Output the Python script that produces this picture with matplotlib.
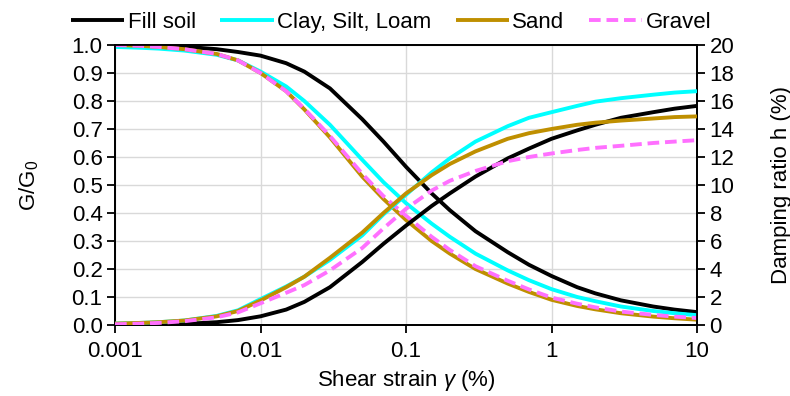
import matplotlib
matplotlib.use("Agg")
import matplotlib.pyplot as plt
from matplotlib.ticker import FixedLocator, FixedFormatter, NullLocator

plt.rcParams['font.family'] = ['Liberation Sans', 'DejaVu Sans']
plt.rcParams['mathtext.fontset'] = 'custom'
plt.rcParams['mathtext.rm'] = 'Liberation Sans'
plt.rcParams['mathtext.it'] = 'Liberation Sans:italic'
plt.rcParams['mathtext.default'] = 'regular'

# shear strain (%) at which the curves are given
strain = [0.001, 0.0015, 0.002, 0.003, 0.005, 0.007,
          0.01, 0.015, 0.02, 0.03, 0.05, 0.07,
          0.1, 0.15, 0.2, 0.3, 0.5, 0.7,
          1, 1.5, 2, 3, 5, 7, 10]

# shear modulus reduction G/G0
g_fill = [1.0, 0.999, 0.998, 0.994, 0.985, 0.975,
          0.962, 0.935, 0.905, 0.845, 0.735, 0.655,
          0.565, 0.47, 0.41, 0.335, 0.26, 0.215,
          0.175, 0.135, 0.113, 0.088, 0.066, 0.055, 0.046]
g_clay = [0.993, 0.99, 0.987, 0.98, 0.965, 0.945,
          0.905, 0.852, 0.8, 0.715, 0.59, 0.51,
          0.435, 0.362, 0.315, 0.255, 0.195, 0.16,
          0.128, 0.1, 0.085, 0.066, 0.05, 0.042, 0.035]
g_sand = [1.0, 0.997, 0.993, 0.985, 0.968, 0.945,
          0.9, 0.835, 0.77, 0.67, 0.53, 0.45,
          0.375, 0.3, 0.255, 0.2, 0.148, 0.118,
          0.09, 0.068, 0.056, 0.042, 0.03, 0.024, 0.019]
g_gravel = [1.0, 0.997, 0.993, 0.985, 0.968, 0.945,
            0.9, 0.835, 0.772, 0.675, 0.54, 0.46,
            0.39, 0.315, 0.268, 0.21, 0.158, 0.127,
            0.098, 0.076, 0.063, 0.048, 0.036, 0.03, 0.025]

# damping ratio h (%)
h_fill = [0.0, 0.02, 0.04, 0.08, 0.2, 0.35,
          0.62, 1.1, 1.65, 2.7, 4.5, 5.8,
          7.1, 8.5, 9.4, 10.6, 11.9, 12.6,
          13.3, 13.9, 14.3, 14.8, 15.2, 15.45, 15.65]
h_clay = [0.1, 0.15, 0.2, 0.32, 0.65, 1.05,
          1.85, 2.75, 3.45, 4.65, 6.4, 7.9,
          9.3, 10.9, 11.9, 13.1, 14.2, 14.8,
          15.2, 15.65, 15.95, 16.2, 16.45, 16.6, 16.7]
h_sand = [0.1, 0.15, 0.2, 0.32, 0.62, 1.0,
          1.75, 2.7, 3.45, 4.8, 6.6, 8.0,
          9.4, 10.7, 11.5, 12.4, 13.3, 13.7,
          14.0, 14.3, 14.45, 14.6, 14.75, 14.85, 14.9]
h_gravel = [0.05, 0.1, 0.15, 0.27, 0.55, 0.9,
            1.55, 2.3, 2.85, 3.9, 5.5, 6.9,
            8.3, 9.6, 10.3, 11.0, 11.7, 12.0,
            12.25, 12.5, 12.65, 12.8, 13.0, 13.1, 13.2]

names = ['Fill soil', 'Clay, Silt, Loam', 'Sand', 'Gravel']
colors = ['black', '#00FFFF', '#BF8F00', '#FF70FF']
styles = ['-', '-', '-', (0, (3.0, 1.5))]

x_ticks = [0.001, 0.01, 0.1, 1, 10]
x_labels = ['0.001', '0.01', '0.1', '1', '10']
g_ticks = [i / 10 for i in range(11)]
h_ticks = list(range(0, 21, 2))

fs = 16
lw = 2.8
fig = plt.figure(figsize=(7.9, 3.96), dpi=100)
ax = fig.add_axes([0.1456, 0.1793, 0.7367, 0.7071])
ax2 = ax.twinx()

g_sets = [g_fill, g_clay, g_sand, g_gravel]
h_sets = [h_fill, h_clay, h_sand, h_gravel]
order = [1, 2, 3, 0]  # drawing order; legend keeps the listed order
handles = [None] * 4
for k in order:
    ln, = ax.plot(strain, g_sets[k], color=colors[k], ls=styles[k], lw=lw,
                  solid_capstyle='butt', solid_joinstyle='round', zorder=3 + k)
    ax2.plot(strain, h_sets[k], color=colors[k], ls=styles[k], lw=lw,
             solid_capstyle='butt', solid_joinstyle='round', zorder=3 + k)
    handles[k] = ln

ax.set_xscale('log')
ax.set_xlim(0.001, 10)
ax.set_ylim(0, 1.0)
ax2.set_ylim(0, 20)

ax.xaxis.set_major_locator(FixedLocator(x_ticks))
ax.xaxis.set_major_formatter(FixedFormatter(x_labels))
ax.xaxis.set_minor_locator(NullLocator())
ax.set_yticks(g_ticks)
ax.set_yticklabels([f'{v:.1f}' for v in g_ticks])
ax2.set_yticks(h_ticks)
ax2.set_yticklabels([str(v) for v in h_ticks])

ax.grid(True, color='#D9D9D9', lw=1.0, zorder=0)
ax.set_axisbelow(True)

for a in (ax, ax2):
    for sp in a.spines.values():
        sp.set_linewidth(1.3)
        sp.set_color('black')
    a.tick_params(direction='out', length=5.5, width=1.3, labelsize=fs, colors='black')
ax.tick_params(axis='x', pad=6)

ax.set_xlabel(r'Shear strain $\mathit{\gamma}$ (%)', fontsize=fs, labelpad=4)
ax.set_ylabel('G/G$_0$', fontsize=fs, labelpad=22)
ax2.set_ylabel('Damping ratio h (%)', fontsize=fs, labelpad=26)

fig.legend(handles, names, loc='upper center', bbox_to_anchor=(0.495, 1.02), ncol=4,
           frameon=False, fontsize=fs, handlelength=2.4, handletextpad=0.15,
           columnspacing=1.1)

fig.savefig('out.png', dpi=100)
